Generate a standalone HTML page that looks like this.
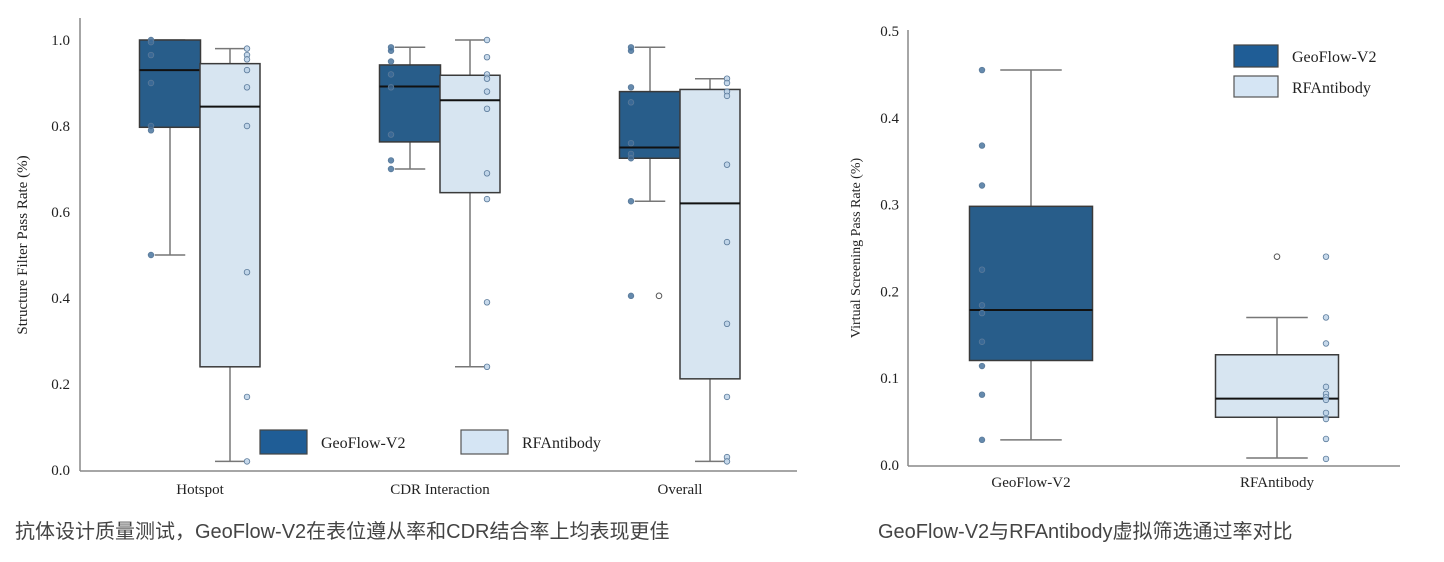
<!DOCTYPE html>
<html><head><meta charset="utf-8">
<style>
body{margin:0;background:#fff;width:1444px;height:562px;overflow:hidden;}
svg{display:block;}
.t{font-family:"Liberation Serif",serif;fill:#222;}
.cap{font-family:"Liberation Sans","Noto Sans CJK SC",sans-serif;fill:#444;font-size:20px;}
</style></head>
<body>
<svg id="s" width="1444" height="562">
<text class="cap" x="15" y="538">抗体设计质量测试，GeoFlow-V2在表位遵从率和CDR结合率上均表现更佳</text>
<text class="cap" x="878" y="538">GeoFlow-V2与RFAntibody虚拟筛选通过率对比</text>
</svg>
<script>
// Left chart data
const leftCategories = ["Hotspot","CDR Interaction","Overall"];
const leftTicks = [0.0,0.2,0.4,0.6,0.8,1.0];
// [whiskerLow, Q1, median, Q3, whiskerHigh]
const geoLeftStats = [[0.5,0.797,0.93,1.0,1.0],[0.70,0.763,0.892,0.942,0.983],[0.625,0.725,0.75,0.88,0.983]];
const rfLeftStats = [[0.02,0.24,0.845,0.945,0.98],[0.24,0.645,0.86,0.918,1.0],[0.02,0.212,0.62,0.885,0.91]];
const geoLeftPoints = [[1.0,0.995,0.965,0.90,0.80,0.79,0.5],[0.983,0.975,0.95,0.92,0.89,0.78,0.72,0.70],[0.983,0.975,0.89,0.855,0.76,0.735,0.725,0.625,0.405]];
const rfLeftPoints = [[0.98,0.965,0.955,0.93,0.89,0.80,0.46,0.17,0.02],[1.0,0.96,0.92,0.91,0.88,0.84,0.69,0.63,0.39,0.24],[0.91,0.90,0.88,0.87,0.71,0.53,0.34,0.17,0.03,0.02]];
const geoLeftOutliers = [[],[],[0.405]];
// Right chart data
const rightCategories = ["GeoFlow-V2","RFAntibody"];
const rightTicks = [0.0,0.1,0.2,0.3,0.4,0.5];
const rightStats = [[0.029,0.1204,0.1786,0.298,0.455],[0.008,0.055,0.0765,0.127,0.170]];
const rightPoints = [[0.455,0.368,0.322,0.225,0.184,0.175,0.142,0.114,0.081,0.029],[0.24,0.17,0.14,0.09,0.082,0.078,0.075,0.06,0.053,0.03,0.007]];
const rightOutliers = [[],[0.24]];

const NS="http://www.w3.org/2000/svg";
const svg=document.getElementById('s');
function mk(tag,attrs,parent){const e=document.createElementNS(NS,tag);for(const k in attrs)e.setAttribute(k,attrs[k]);(parent||svg).appendChild(e);return e;}
const DARK="#285d8a", LIGHT="#d7e5f1";

function box(g,cx,w,st,fill,y,name){
  const [lo,q1,md,q3,hi]=st;
  let e;
  e=mk('line',{x1:cx,x2:cx,y1:y(hi),y2:y(q3),stroke:'#777','stroke-width':1.5},g);
  
  e=mk('line',{x1:cx,x2:cx,y1:y(q1),y2:y(lo),stroke:'#777','stroke-width':1.5},g);
  
  e=mk('line',{x1:cx-w/4,x2:cx+w/4,y1:y(hi),y2:y(hi),stroke:'#777','stroke-width':1.5},g);
  
  e=mk('line',{x1:cx-w/4,x2:cx+w/4,y1:y(lo),y2:y(lo),stroke:'#777','stroke-width':1.5},g);
  
  e=mk('rect',{x:cx-w/2,y:y(q3),width:w,height:y(q1)-y(q3),fill:fill,stroke:'#3a3a3a','stroke-width':1.5},g);
  
  e=mk('line',{x1:cx-w/2,x2:cx+w/2,y1:y(md),y2:y(md),stroke:'#111','stroke-width':2},g);
  
}
function pts(g,x,vals,y,fill,name){
  vals.forEach(v=>{const c=mk('circle',{cx:x,cy:y(v),r:2.8,fill:fill,stroke:'#5a7a9a','stroke-width':0.8,'fill-opacity':0.8},g);
  });
}

// LEFT
(function(){
  const y=v=>470-v*430;
  const g=mk('g',{});
  
  let e=mk('line',{x1:80,x2:80,y1:18,y2:471,stroke:'#888','stroke-width':1.5},g);
  
  e=mk('line',{x1:80,x2:797,y1:471,y2:471,stroke:'#888','stroke-width':1.5},g);
  
  leftTicks.forEach(t=>{const tx=mk('text',{x:70,y:y(t)+5,'text-anchor':'end','font-size':15,class:'t'},g);tx.textContent=t.toFixed(1);
    });
  const yt=mk('text',{x:0,y:0,transform:'translate(27,245) rotate(-90)','text-anchor':'middle','font-size':15,class:'t'},g);
  yt.textContent='Structure Filter Pass Rate (%)';
  const centers=[200,440,680];
  leftCategories.forEach((c,i)=>{
    const cx=centers[i];
    const lb=mk('text',{x:cx,y:494,'text-anchor':'middle','font-size':15,class:'t'},g);lb.textContent=c;
    
    box(g,cx-30,61,geoLeftStats[i],DARK,y,'geoflow-'+i);
    box(g,cx+30,60,rfLeftStats[i],LIGHT,y,'rfantibody-'+i);
    pts(g,cx-49,geoLeftPoints[i],y,'#3f6d98','geoflow-'+i);
    pts(g,cx+47,rfLeftPoints[i],y,'#b9d0e6','rfantibody-'+i);
    geoLeftOutliers[i].forEach(v=>{const o=mk('circle',{cx:cx-21,cy:y(v),r:2.8,fill:'none',stroke:'#555','stroke-width':1},g);
      });
  });
  const lg=mk('g',{},g);
  e=mk('rect',{x:260,y:430,width:47,height:24,fill:'#1f5d96',stroke:'#444','stroke-width':1.2},lg);
  
  e=mk('text',{x:321,y:448,'font-size':16,class:'t'},lg);e.textContent='GeoFlow-V2';
  
  e=mk('rect',{x:461,y:430,width:47,height:24,fill:'#d5e5f4',stroke:'#555','stroke-width':1.2},lg);
  
  e=mk('text',{x:522,y:448,'font-size':16,class:'t'},lg);e.textContent='RFAntibody';
  
})();

// RIGHT
(function(){
  const y=v=>465-v*868;
  const g=mk('g',{});
  
  let e=mk('line',{x1:908,x2:908,y1:30,y2:466,stroke:'#888','stroke-width':1.5},g);
  
  e=mk('line',{x1:908,x2:1400,y1:466,y2:466,stroke:'#888','stroke-width':1.5},g);
  
  rightTicks.forEach(t=>{const tx=mk('text',{x:899,y:y(t)+5,'text-anchor':'end','font-size':15,class:'t'},g);tx.textContent=t.toFixed(1);
    });
  const yt=mk('text',{x:0,y:0,transform:'translate(860,248) rotate(-90)','text-anchor':'middle','font-size':14,class:'t'},g);
  yt.textContent='Virtual Screening Pass Rate (%)';
  const centers=[1031,1277];
  const fills=[DARK,LIGHT], pf=['#3f6d98','#b9d0e6'];
  rightCategories.forEach((c,i)=>{
    const cx=centers[i];
    const lb=mk('text',{x:cx,y:487,'text-anchor':'middle','font-size':15,class:'t'},g);lb.textContent=c;
    
    box(g,cx,123,rightStats[i],fills[i],y,'right-'+i);
    pts(g,cx-49+(i?98:0),rightPoints[i],y,pf[i],'right-'+i);
    rightOutliers[i].forEach(v=>{const o=mk('circle',{cx:cx,cy:y(v),r:2.8,fill:'#fff',stroke:'#555','stroke-width':1},g);
      });
  });
  const lg=mk('g',{},g);
  e=mk('rect',{x:1234,y:45,width:44,height:22,fill:'#1f5d96',stroke:'#444','stroke-width':1.2},lg);
  
  e=mk('text',{x:1292,y:62,'font-size':16,class:'t'},lg);e.textContent='GeoFlow-V2';
  
  e=mk('rect',{x:1234,y:76,width:44,height:21,fill:'#d5e5f4',stroke:'#555','stroke-width':1.2},lg);
  
  e=mk('text',{x:1292,y:93,'font-size':16,class:'t'},lg);e.textContent='RFAntibody';
  
})();
</script>
</body></html>
